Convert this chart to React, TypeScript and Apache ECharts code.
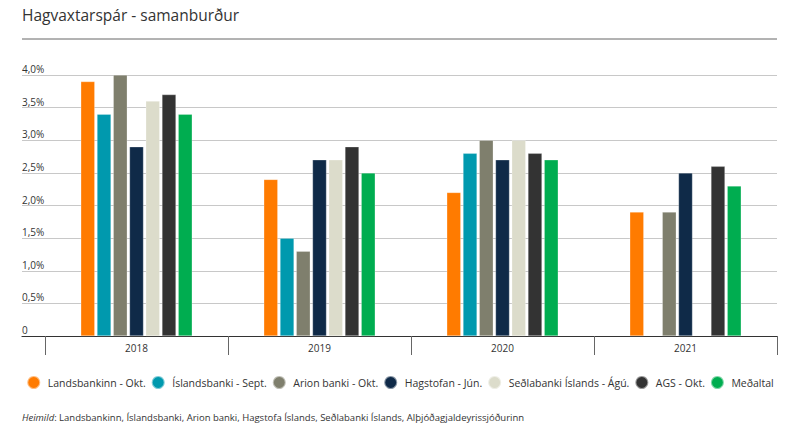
import React, { useEffect, useRef } from "react";
import * as echarts from "echarts";

const years = ["2018", "2019", "2020", "2021"];
const seriesNames = [
  "Landsbankinn - Okt.",
  "Íslandsbanki - Sept.",
  "Arion banki - Okt.",
  "Hagstofan - Jún.",
  "Seðlabanki Íslands - Ágú.",
  "AGS - Okt.",
  "Meðaltal",
];
const colors = ["#FF7B00", "#0099AE", "#7F7F6D", "#0F2A48", "#DCDCCB", "#333333", "#00AD50"];
const landsbankinn = [3.9, 2.4, 2.2, 1.9];
const islandsbanki = [3.4, 1.5, 2.8, null];
const arion = [4.0, 1.3, 3.0, 1.9];
const hagstofan = [2.9, 2.7, 2.7, 2.5];
const sedlabanki = [3.6, 2.7, 3.0, null];
const ags = [3.7, 2.9, 2.8, 2.6];
const medaltal = [3.4, 2.5, 2.7, 2.3];
const seriesValues = [landsbankinn, islandsbanki, arion, hagstofan, sedlabanki, ags, medaltal];

const FONT = "'Open Sans', 'Noto Sans', sans-serif";

export default function App() {
  const ref = useRef<HTMLDivElement>(null);
  useEffect(() => {
    if (!ref.current) return;
    const chart = echarts.init(ref.current, null, { renderer: "svg" });
    chart.setOption({
      animation: false,
      backgroundColor: "#ffffff",
      textStyle: { fontFamily: FONT },
      grid: [
        { left: 22, right: 23, top: 75, bottom: 102, containLabel: false },
        { left: 45, right: 23, top: 75, bottom: 102, containLabel: false },
      ],
      xAxis: [
        {
          type: "value",
          gridIndex: 0,
          min: 0,
          max: 1,
          axisLine: { show: true, onZero: false, lineStyle: { color: "#333", width: 1.2 } },
          axisTick: { show: false },
          axisLabel: { show: false },
          splitLine: { show: false },
        },
        {
          type: "category",
          gridIndex: 1,
          data: years,
          axisLine: { show: false },
          axisTick: { show: true, length: 19, interval: 0, lineStyle: { color: "#666" } },
          axisLabel: { color: "#333", fontSize: 10, margin: 7, fontFamily: FONT },
          splitLine: { show: false },
        },
      ],
      yAxis: [
        {
          type: "value",
          gridIndex: 0,
          min: 0,
          max: 4,
          interval: 0.5,
          axisLine: { show: false },
          axisTick: { show: false },
          axisLabel: {
            inside: true,
            margin: 0,
            verticalAlign: "bottom",
            padding: [0, 0, 1, 0],
            color: "#333",
            fontSize: 10,
            fontFamily: FONT,
            formatter: (v: number) => (v === 0 ? "0" : v.toFixed(1).replace(".", ",") + "%"),
          },
          splitLine: { show: true, lineStyle: { color: "#c8c8c8", width: 1 } },
        },
        {
          type: "value",
          gridIndex: 1,
          min: 0,
          max: 4,
          show: false,
        },
      ],
      legend: {
        top: 370,
        left: "center",
        icon: "circle",
        itemWidth: 18,
        itemHeight: 13,
        itemGap: 5,
        textStyle: { color: "#333", fontSize: 10.5, fontFamily: FONT },
        data: seriesNames,
      },
      graphic: [
        {
          type: "text",
          left: 22,
          top: 7,
          style: { text: "Hagvaxtarspár - samanburður", fontSize: 15.5, fill: "#333", fontFamily: FONT },
        },
        {
          type: "line",
          shape: { x1: 22, y1: 39, x2: 777, y2: 39 },
          style: { stroke: "#666", lineWidth: 1 },
        },
        {
          type: "text",
          left: 22,
          top: 412,
          style: {
            text: "{i|Heimild}: Landsbankinn, Íslandsbanki, Arion banki, Hagstofa Íslands, Seðlabanki Íslands, Alþjóðagjaldeyrissjóðurinn",
            fontSize: 9.5,
            fill: "#333",
            fontFamily: FONT,
            rich: { i: { fontStyle: "italic", fontSize: 9.5, fill: "#333", fontFamily: FONT } },
          },
        },
      ],
      series: seriesNames.map((name, i) => ({
        name,
        type: "bar",
        xAxisIndex: 1,
        yAxisIndex: 1,
        data: seriesValues[i],
        barWidth: 14,
        barGap: "16%",
        itemStyle: { color: colors[i], borderColor: "rgba(255,255,255,0.5)", borderWidth: 0.5 },
      })),
    });
    return () => chart.dispose();
  }, []);
  return (
    <div
      ref={ref}
      style={{ position: "absolute", left: 0, top: 0, width: 800, height: 438 }}
    />
  );
}
